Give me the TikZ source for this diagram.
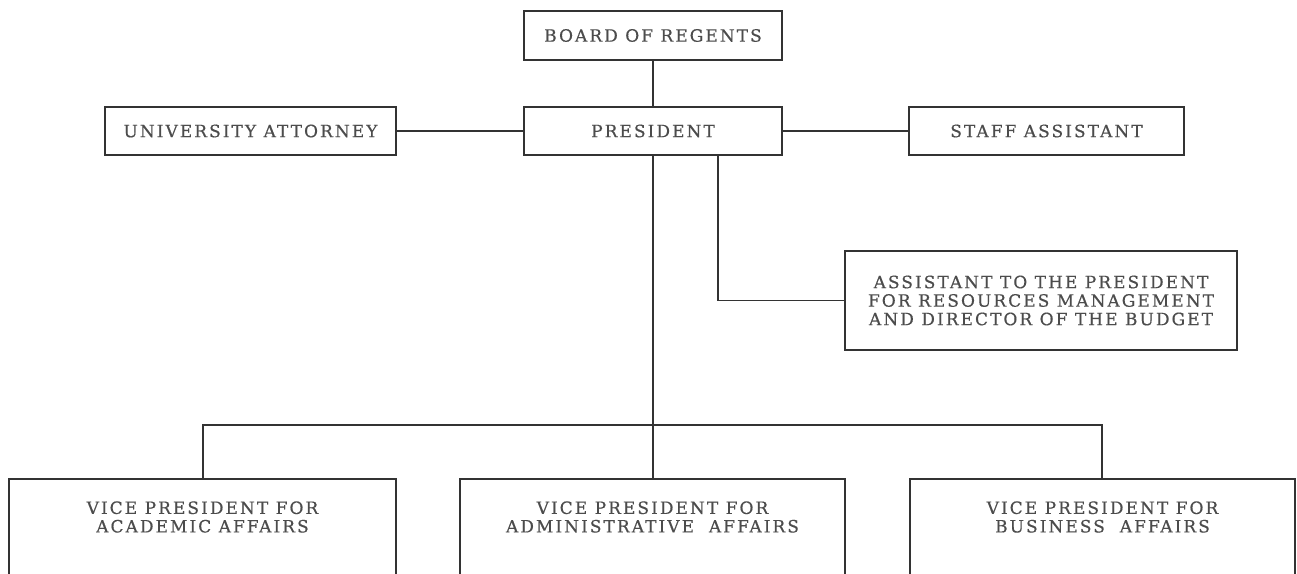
\documentclass[tikz,border=0pt]{standalone}
\usepackage{fontspec}
\setmainfont{DejaVu Serif}
\begin{document}
\begin{tikzpicture}[x=1pt,y=-1pt,
  ln/.style={draw=black!80, line width=1.3pt},
  lbl/.style={font=\fontsize{17}{18.5}\selectfont\addfontfeature{LetterSpace=12,FakeBold=0.5},
    text=black!70, align=center, inner sep=0pt},
  unit/.style={lbl, draw=black!80, line width=1.3pt, rectangle}]
\path[use as bounding box] (0,0) rectangle (1297,573);
\clip (0,0) rectangle (1297,573);
\fill[white] (0,0) rectangle (1297,573);

% upper tier
\node[unit, minimum width=258pt, minimum height=49pt] (board) at (653,35.5) {BOARD OF REGENTS};
\node[unit, minimum width=258pt, minimum height=48pt] (pres) at (653,131) {PRESIDENT};
\node[unit, minimum width=291pt, minimum height=48pt] (atty) at (250.5,131) {UNIVERSITY ATTORNEY};
\node[unit, minimum width=275pt, minimum height=48pt] (staff) at (1046.5,131) {STAFF ASSISTANT};
\node[unit, minimum width=392pt, minimum height=99pt] (budget) at (1041,300.5)
  {ASSISTANT TO THE PRESIDENT\\FOR RESOURCES MANAGEMENT\\AND DIRECTOR OF THE BUDGET};

% vice presidents: labels, and boxes that run off the lower edge
\node[lbl] (vpacad) at (202.5,517) {VICE PRESIDENT FOR\\ACADEMIC AFFAIRS};
\node[lbl] (vpadm) at (652.5,517) {VICE PRESIDENT FOR\\ADMINISTRATIVE\ \ AFFAIRS};
\node[lbl] (vpbus) at (1102.5,517) {VICE PRESIDENT FOR\\BUSINESS\ \ AFFAIRS};
\coordinate (acadtop) at (203,479);
\coordinate (admtop) at (653,479);
\coordinate (bustop) at (1102,479);
\draw[ln] (9,600) |- (396,479) -- (396,600);
\draw[ln] (460,600) |- (845,479) -- (845,600);
\draw[ln] (910,600) |- (1295,479) -- (1295,600);

% connectors
\draw[ln] (board.south) -- (pres.north);
\draw[ln] (atty.east) -- (pres.west);
\draw[ln] (pres.east) -- (staff.west);
\draw[ln] (pres.south -| 718,0) |- (budget.west);
\coordinate (bar) at (653,425);
\draw[ln] (pres.south) -- (admtop);
\draw[ln] (acadtop) |- (bar) -| (bustop);
\end{tikzpicture}
\end{document}
